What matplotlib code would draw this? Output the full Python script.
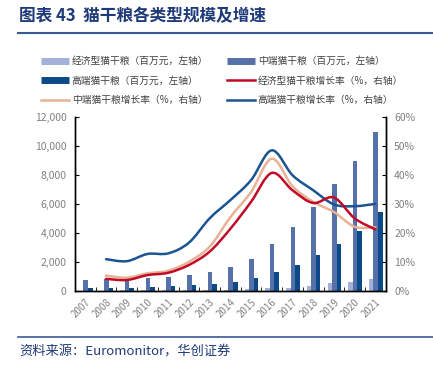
import matplotlib
matplotlib.use("Agg")
import matplotlib.pyplot as plt
import numpy as np
from matplotlib.path import Path
from matplotlib.patches import PathPatch
from matplotlib.lines import Line2D
from matplotlib.ticker import FuncFormatter

plt.rcParams['font.family'] = ['Noto Sans CJK SC', 'DejaVu Sans']

years = ['2007', '2008', '2009', '2010', '2011', '2012', '2013', '2014',
         '2015', '2016', '2017', '2018', '2019', '2020', '2021']
econ = [30, 35, 40, 45, 50, 60, 70, 100, 140, 185, 230, 370, 530, 645, 810]
mid = [770, 810, 760, 875, 945, 1105, 1290, 1640, 2210, 3270, 4400, 5800, 7390, 9000, 10970]
high = [185, 230, 230, 275, 320, 390, 485, 645, 875, 1310, 1820, 2490, 3225, 4170, 5440]
econ_g = [None, 4.2, 3.8, 5.5, 6.3, 9.0, 13.6, 21.5, 30.8, 40.8, 34.8, 30.4, 32.3, 25.1, 21.3]
mid_g = [None, 5.3, 4.6, 6.1, 7.0, 10.1, 15.3, 25.5, 34.2, 45.7, 36.2, 30.8, 27.3, 22.2, 22.0]
high_g = [None, 11.0, 10.3, 12.8, 13.0, 16.7, 25.1, 31.4, 38.3, 48.6, 40.0, 34.8, 29.9, 29.3, 30.1]

labels_bar = ['经济型猫干粮（百万元，左轴）', '中端猫干粮（百万元，左轴）', '高端猫干粮（百万元，左轴）']
labels_line = ['经济型猫干粮增长率（%，右轴）', '中端猫干粮增长率（%，右轴）', '高端猫干粮增长率（%，右轴）']

c_econ = '#a3b1d8'
c_mid = '#5670aa'
c_high = '#0a4a88'
c_red = '#c00a28'
c_salmon = '#e8b295'
c_blue = '#1a5592'
gray = '#808080'

fig = plt.figure(figsize=(4.33, 3.68), dpi=100)
ax = fig.add_axes([0.1732, 0.2092, 0.7176, 0.4720])
ax2 = ax.twinx()

x = np.arange(len(years))
w = 0.22
ax.bar(x - 0.2, econ, w, color=c_econ, zorder=2)
ax.bar(x + 0.02, mid, w, color=c_mid, zorder=2)
ax.bar(x + 0.24, high, w, color=c_high, zorder=2)
ax.set_ylim(0, 12000)
ax.set_xlim(-0.5, len(years) - 0.5)
ax.set_yticks(np.arange(0, 12001, 2000))
ax.yaxis.set_major_formatter(FuncFormatter(lambda v, p: f'{int(v):,}'))
ax.set_xticks(x)
ax.set_xticklabels(years, rotation=45, ha='right', rotation_mode='anchor')
ax.tick_params(axis='x', length=0, pad=4, labelsize=7, colors=gray)
ax.set_xticks(np.arange(-0.5, len(years), 1), minor=True)
ax.tick_params(axis='x', which='minor', direction='in', length=3, color='black')
ax.tick_params(axis='y', direction='in', length=3, labelsize=7.5, labelcolor=gray, pad=6)

ax2.set_ylim(0, 60)
ax2.set_yticks(np.arange(0, 61, 10))
ax2.yaxis.set_major_formatter(FuncFormatter(lambda v, p: f'{int(v)}%'))
ax2.tick_params(axis='y', direction='in', length=3, labelsize=7.5, labelcolor=gray, pad=6)

for a in (ax, ax2):
    a.spines['top'].set_visible(False)
    for s in ('left', 'right', 'bottom'):
        a.spines[s].set_linewidth(1.0)
        a.spines[s].set_color('black')


def smooth_path(xs, ys):
    pts = [(xx, yy) for xx, yy in zip(xs, ys) if yy is not None]
    P = np.array(pts, dtype=float)
    verts = [tuple(P[0])]
    codes = [Path.MOVETO]
    n = len(P)
    for i in range(n - 1):
        p0 = P[i - 1] if i > 0 else P[i]
        p1 = P[i]
        p2 = P[i + 1]
        p3 = P[i + 2] if i + 2 < n else P[i + 1]
        c1 = p1 + (p2 - p0) / 6.0
        c2 = p2 - (p3 - p1) / 6.0
        verts += [tuple(c1), tuple(c2), tuple(p2)]
        codes += [Path.CURVE4] * 3
    return Path(verts, codes)


for vals, col in ((high_g, c_blue), (mid_g, c_salmon), (econ_g, c_red)):
    patch = PathPatch(smooth_path(x, vals), facecolor='none', edgecolor=col,
                      lw=1.8, zorder=3, capstyle='round', joinstyle='round')
    ax2.add_patch(patch)

# Legend
h_econ = Line2D([], [], color=c_econ, lw=5, solid_capstyle='butt')
h_mid = Line2D([], [], color=c_mid, lw=5, solid_capstyle='butt')
h_high = Line2D([], [], color=c_high, lw=5, solid_capstyle='butt')
h_red = Line2D([], [], color=c_red, lw=1.8)
h_salmon = Line2D([], [], color=c_salmon, lw=1.8)
h_blue = Line2D([], [], color=c_blue, lw=1.8)
# column-major fill: col1 = econ bar, high bar, mid growth ; col2 = mid bar, econ growth, high growth
handles = [h_econ, h_high, h_salmon, h_mid, h_red, h_blue]
labels = [labels_bar[0], labels_bar[2], labels_line[1], labels_bar[1], labels_line[0], labels_line[2]]
leg = fig.legend(handles, labels, ncol=2,
                 loc='upper left', bbox_to_anchor=(0.085, 0.858), frameon=False,
                 fontsize=7.0, handlelength=2.9, handletextpad=0.3,
                 columnspacing=1.9, labelspacing=0.98, borderaxespad=0)
for t in leg.get_texts():
    t.set_color('#404040')

# Title and decorations
fig.text(0.045, 0.957, '图表 43  猫干粮各类型规模及增速', fontsize=12, fontweight='bold',
         color='#1f3a78', va='center', ha='left')
fig.add_artist(Line2D([0.042, 1.0], [0.910, 0.910], color='#3a5a94', lw=1.5,
                      transform=fig.transFigure))
fig.add_artist(Line2D([0.042, 1.0], [0.084, 0.084], color='#3a5a94', lw=1.2,
                      transform=fig.transFigure))
fig.text(0.045, 0.043, '资料来源：Euromonitor，华创证券', fontsize=9.5, style='italic',
         color='#1f3a78', va='center', ha='left')

fig.savefig('out.png', dpi=100)
